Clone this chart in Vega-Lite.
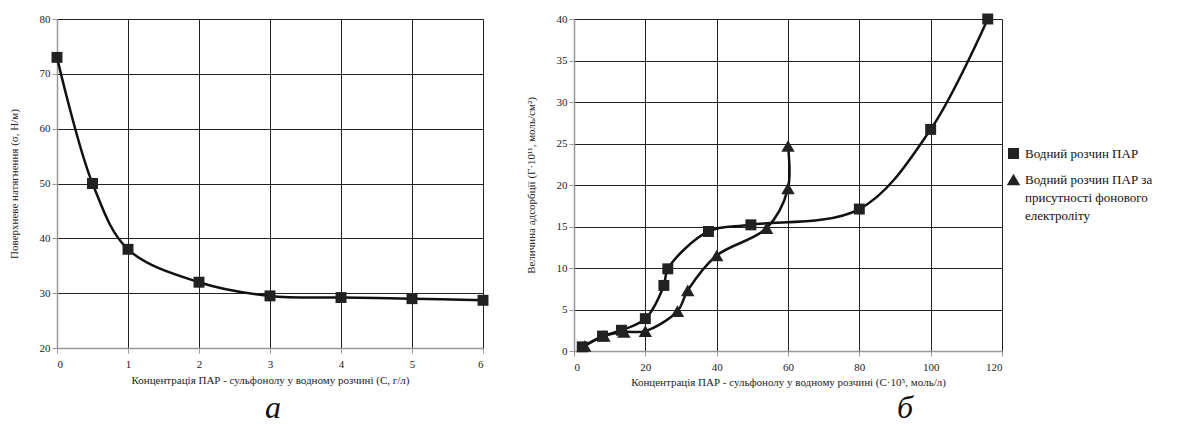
{
  "$schema": "https://vega.github.io/schema/vega-lite/v6.json",
  "padding": {"left": 8, "top": 13, "right": 0, "bottom": 0},
  "background": "white",
  "spacing": 36,
  "config": {
    "font": "Liberation Serif, Times New Roman, serif",
    "view": {"stroke": null},
    "style": {"guide-label": {"lineHeight": 18}},
    "axis": {
      "labelFont": "Liberation Serif, Times New Roman, serif", "labelFontSize": 11, "labelColor": "#222",
      "titleFont": "Liberation Serif, Times New Roman, serif", "titleFontSize": 11, "titleFontWeight": "normal", "titleColor": "#222",
      "gridColor": "#222", "gridWidth": 1, "gridOpacity": 1,
      "domainColor": "#999", "domainWidth": 1.5, "tickColor": "#999", "tickSize": 5
    },
    "legend": {
      "title": null, "orient": "none", "legendX": 949, "legendY": 128,
      "labelFont": "Liberation Serif, Times New Roman, serif", "labelFontSize": 13, "labelFontWeight": "normal", "labelColor": "#111",
      "symbolFillColor": "#222", "symbolStrokeColor": "#222",
      "rowPadding": 8, "labelLimit": 300
    },
    "title": {"font": "Liberation Serif, Times New Roman, serif", "fontStyle": "italic", "fontWeight": "normal", "fontSize": 32, "color": "#111"}
  },
  "datasets": {
    "left": [
      {"c": 0, "s": 73}, {"c": 0.5, "s": 50}, {"c": 1, "s": 38}, {"c": 2, "s": 32},
      {"c": 3, "s": 29.5}, {"c": 4, "s": 29.2}, {"c": 5, "s": 29}, {"c": 6, "s": 28.7}
    ],
    "right": [
      {"series": "Водний розчин ПАР", "n": 1, "c": 2.3, "g": 0.5},
      {"series": "Водний розчин ПАР", "n": 2, "c": 8, "g": 1.8},
      {"series": "Водний розчин ПАР", "n": 3, "c": 13.3, "g": 2.5},
      {"series": "Водний розчин ПАР", "n": 4, "c": 20, "g": 3.9},
      {"series": "Водний розчин ПАР", "n": 5, "c": 25.2, "g": 7.9},
      {"series": "Водний розчин ПАР", "n": 6, "c": 26.3, "g": 9.9},
      {"series": "Водний розчин ПАР", "n": 7, "c": 37.7, "g": 14.4},
      {"series": "Водний розчин ПАР", "n": 8, "c": 49.6, "g": 15.2},
      {"series": "Водний розчин ПАР", "n": 9, "c": 80, "g": 17.1},
      {"series": "Водний розчин ПАР", "n": 10, "c": 100, "g": 26.7},
      {"series": "Водний розчин ПАР", "n": 11, "c": 116, "g": 40},
      {"series": "Водний розчин ПАР за присутності фонового електроліту", "n": 1, "c": 3, "g": 0.6},
      {"series": "Водний розчин ПАР за присутності фонового електроліту", "n": 2, "c": 8.4, "g": 1.8},
      {"series": "Водний розчин ПАР за присутності фонового електроліту", "n": 3, "c": 14, "g": 2.3},
      {"series": "Водний розчин ПАР за присутності фонового електроліту", "n": 4, "c": 20, "g": 2.4},
      {"series": "Водний розчин ПАР за присутності фонового електроліту", "n": 5, "c": 29, "g": 4.8},
      {"series": "Водний розчин ПАР за присутності фонового електроліту", "n": 6, "c": 31.9, "g": 7.3},
      {"series": "Водний розчин ПАР за присутності фонового електроліту", "n": 7, "c": 40, "g": 11.5},
      {"series": "Водний розчин ПАР за присутності фонового електроліту", "n": 8, "c": 54, "g": 14.8},
      {"series": "Водний розчин ПАР за присутності фонового електроліту", "n": 9, "c": 60, "g": 19.6},
      {"series": "Водний розчин ПАР за присутності фонового електроліту", "n": 10, "c": 60, "g": 24.7}
    ]
  },
  "hconcat": [
    {
      "width": 426, "height": 329,
      "data": {"name": "left"},
      "title": {"text": "а", "orient": "bottom", "offset": 8, "dx": 3},
      "encoding": {
        "x": {"field": "c", "type": "quantitative",
              "scale": {"domain": [0, 6], "nice": false},
              "axis": {"values": [0, 1, 2, 3, 4, 5, 6], "title": "Концентрація ПАР - сульфонолу у водному розчині (C, г/л)", "titlePadding": 5, "labelPadding": 5}},
        "y": {"field": "s", "type": "quantitative",
              "scale": {"domain": [20, 80], "nice": false, "zero": false},
              "axis": {"values": [20, 30, 40, 50, 60, 70, 80], "title": "Поверхневе натягнення (σ, Н/м)", "titlePadding": 20}}
      },
      "layer": [
        {"mark": {"type": "line", "interpolate": "catmull-rom", "color": "#111", "strokeWidth": 2.5}},
        {"mark": {"type": "point", "shape": "square", "filled": true, "color": "#222", "size": 120, "opacity": 1}}
      ]
    },
    {
      "width": 428, "height": 332,
      "data": {"name": "right"},
      "title": {"text": "б", "orient": "bottom", "offset": 6, "dx": 117},
      "encoding": {
        "x": {"field": "c", "type": "quantitative",
              "scale": {"domain": [0, 120], "nice": false},
              "axis": {"values": [0, 20, 40, 60, 80, 100, 120], "title": "Концентрація ПАР - сульфонолу у водному розчині (C·10⁵, моль/л)", "titlePadding": 4, "labelPadding": 5}},
        "y": {"field": "g", "type": "quantitative",
              "scale": {"domain": [0, 40], "nice": false},
              "axis": {"values": [0, 5, 10, 15, 20, 25, 30, 35, 40], "title": "Величина адсорбції (Γ·10¹¹, моль/см²)", "titlePadding": 20}}
      },
      "layer": [
        {"mark": {"type": "line", "interpolate": "catmull-rom", "color": "#111", "strokeWidth": 2.5},
         "encoding": {"detail": {"field": "series"}, "order": {"field": "n"}}},
        {"mark": {"type": "point", "filled": true, "color": "#222", "opacity": 1},
         "encoding": {
           "size": {"field": "series", "type": "nominal", "scale": {"range": [120, 180]},
                    "legend": {"labelExpr": "datum.label == 'Водний розчин ПАР' ? datum.label : ['Водний розчин ПАР за', 'присутності фонового', 'електроліту']"}},
           "shape": {"field": "series", "type": "nominal",
                     "scale": {"range": ["square", "triangle-up"]},
                     "legend": {"labelExpr": "datum.label == 'Водний розчин ПАР' ? datum.label : ['Водний розчин ПАР за', 'присутності фонового', 'електроліту']"}}
         }}
      ]
    }
  ]
}
